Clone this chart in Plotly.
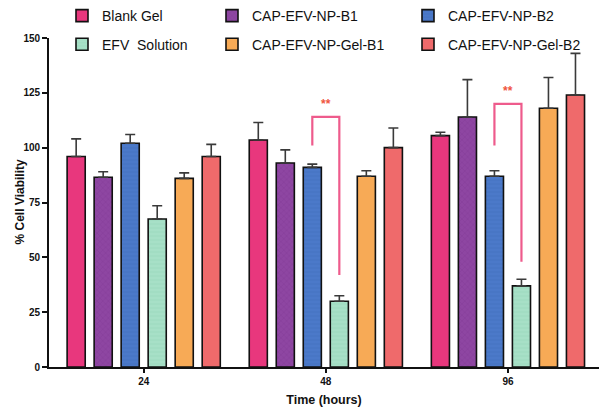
import plotly.graph_objects as go

# ---------------- data ----------------
time_labels = ["24", "48", "96"]
series_names = ["Blank Gel", "CAP-EFV-NP-B1", "CAP-EFV-NP-B2",
                "EFV  Solution", "CAP-EFV-NP-Gel-B1", "CAP-EFV-NP-Gel-B2"]
blank_gel = [96, 103.5, 105.5]
blank_gel_err = [8, 8, 1.5]
np_b1 = [86.5, 93, 114]
np_b1_err = [2.5, 6, 17]
np_b2 = [102, 91, 87]
np_b2_err = [4, 1.5, 2.5]
efv_solution = [67.5, 30, 37]
efv_solution_err = [6, 2.5, 3]
np_gel_b1 = [86, 87, 118]
np_gel_b1_err = [2.5, 2.5, 14]
np_gel_b2 = [96, 100, 124]
np_gel_b2_err = [5.5, 9, 19]

# significance brackets: group index, bars compared, left foot, top, right foot
sig_groups = [1, 2]
sig_bar_pair = [2, 3]
sig_left = [101, 101]
sig_top = [114, 120]
sig_right = [42, 48]
sig_label = ["**", "**"]

# ---------------- styling ----------------
values = [blank_gel, np_b1, np_b2, efv_solution, np_gel_b1, np_gel_b2]
errors = [blank_gel_err, np_b1_err, np_b2_err, efv_solution_err, np_gel_b1_err, np_gel_b2_err]
colors = ["#e8377d", "#8e46a2", "#4b79c9", "#a7e0c7", "#f7aa56", "#ef6a6b"]
pattern_shapes = ["", "x", "-", "-", "", ""]
pattern_fg = ["#e8377d", "#7a3690", "#3f6ab8", "#93d3b7", "#f7aa56", "#ef6a6b"]
legend_ids = ["legend", "legend2", "legend3", "legend", "legend2", "legend3"]

BARGAP = 0.11
BARGROUPGAP = 0.33

fig = go.Figure()
xpos = list(range(len(time_labels)))
for i, name in enumerate(series_names):
    fig.add_trace(go.Bar(
        name=name,
        x=xpos,
        y=values[i],
        marker=dict(
            color=colors[i],
            line=dict(color="#111111", width=1.6),
            pattern=dict(shape=pattern_shapes[i], fgcolor=pattern_fg[i],
                         size=4, solidity=0.25),
        ),
        error_y=dict(type="data", symmetric=False, array=errors[i],
                     arrayminus=[0] * len(errors[i]),
                     color="#3a3a3a", thickness=1.6, width=5),
        legend=legend_ids[i],
        legendgroup=name,
    ))

# bracket positions from grouped-bar geometry
n = len(series_names)
slot = (1 - BARGAP) / n
def bar_center(g, b):
    return g - (1 - BARGAP) / 2 + (b + 0.5) * slot

for k, g in enumerate(sig_groups):
    xl = bar_center(g, sig_bar_pair[0])
    xr = bar_center(g, sig_bar_pair[1])
    fig.add_shape(type="path",
                  path=f"M {xl},{sig_left[k]} L {xl},{sig_top[k]} L {xr},{sig_top[k]} L {xr},{sig_right[k]}",
                  xref="x", yref="y", line=dict(color="#ee5b8c", width=2.2))
    fig.add_annotation(x=(xl + xr) / 2, y=sig_top[k] + 6, text=f"<b>{sig_label[k]}</b>",
                       showarrow=False, xref="x", yref="y",
                       font=dict(color="#f0553e", size=12, family="Liberation Sans"))

# y-axis title
fig.add_annotation(x=0, y=0.5, xref="paper", yref="paper", xshift=-39,
                   text="<b>% Cell Viability</b>", textangle=-90, showarrow=False,
                   font=dict(size=12, family="Liberation Sans", color="#111111"))

legend_common = dict(orientation="v", xref="container", yref="container",
                     yanchor="top", xanchor="left", bgcolor="rgba(0,0,0,0)",
                     font=dict(family="Liberation Sans", size=14, color="#111111"),
                     tracegroupgap=7.5, itemwidth=30)

fig.update_layout(
    width=600, height=412,
    margin=dict(l=49, r=1, t=38, b=45, autoexpand=False),
    paper_bgcolor="white", plot_bgcolor="white",
    barmode="group", bargap=BARGAP, bargroupgap=BARGROUPGAP,
    font=dict(family="Liberation Sans", color="#111111"),
    showlegend=True,
    legend=dict(x=62 / 600, y=1 + 9.5 / 412, **legend_common),
    legend2=dict(x=212 / 600, y=1 + 9.5 / 412, **legend_common),
    legend3=dict(x=408 / 600, y=1 + 9.5 / 412, **legend_common),
    xaxis=dict(
        range=[-0.52, 2.5], tickvals=xpos, ticktext=[f"<b>{t}</b>" for t in time_labels],
        showline=True, linecolor="#111111", linewidth=1.8,
        ticks="outside", ticklen=4, tickwidth=1.5, tickcolor="#111111",
        showgrid=False, zeroline=False, automargin=False,
        tickfont=dict(size=10, family="Liberation Sans", color="#111111"),
        title=dict(text="<b>Time (hours)</b>", font=dict(size=12.5), standoff=9),
    ),
    yaxis=dict(
        range=[0, 150], tickvals=[0, 25, 50, 75, 100, 125, 150],
        ticktext=[f"<b>{v}</b>" for v in [0, 25, 50, 75, 100, 125, 150]],
        showline=True, linecolor="#111111", linewidth=1.8,
        ticks="outside", ticklen=5, tickwidth=1.5, tickcolor="#111111",
        showgrid=False, zeroline=False, automargin=False,
        tickfont=dict(size=10, family="Liberation Sans", color="#111111"),
    ),
)

fig.write_html("out.html", config={"displayModeBar": False},
               post_script="document.body.style.margin='0px';")
